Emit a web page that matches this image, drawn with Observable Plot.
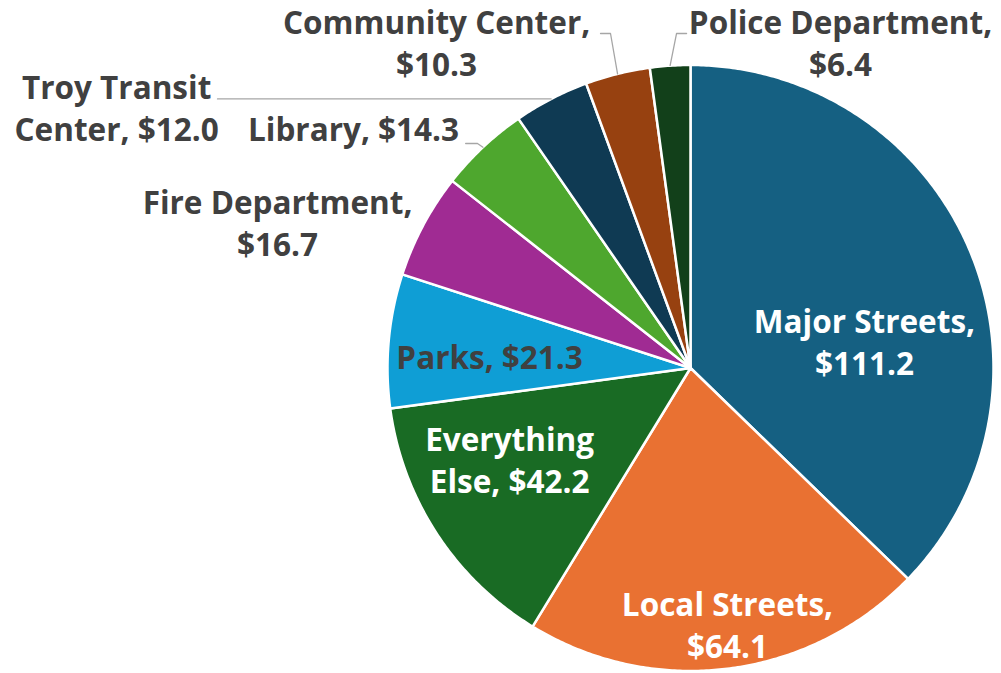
<!DOCTYPE html>
<html><head><meta charset="utf-8">
<script src="https://cdn.jsdelivr.net/npm/d3@7"></script>
<script src="https://cdn.jsdelivr.net/npm/@observablehq/plot@0.6"></script>
<style>body{margin:0;background:#fff}#chart svg{display:block;background:#fff}</style>
</head><body><div id="chart"></div>
<script>
// ---- data ----
const categories = ["Major Streets", "Local Streets", "Everything Else", "Parks", "Fire Department",
  "Library", "Troy Transit Center", "Community Center", "Police Department"];
const values = [111.2, 64.1, 42.2, 21.3, 16.7, 14.3, 12.0, 10.3, 6.4];
const colors = ["#156082", "#E97132", "#196B24", "#0F9ED5", "#A02B93", "#4EA72E", "#0F3A53", "#974110", "#12401A"];

// ---- layout (label placement in pie-radius units, relative to pie centre; y up) ----
const labelPos = [[0.574, 0.091], [0.122, -0.843], [-0.597, -0.299], [-0.663, 0.041], [-1.363, 0.484],
  [-1.112, 0.794], [-1.894, 0.863], [-0.838, 1.078], [0.495, 1.078]];
const labelWrap = [2, 2, 1, 0, 2, 0, 2, 2, 2]; // words on first line (0 = single line)
const labelWhite = [true, true, true, false, false, false, false, false, false];
// leader line label-side points (pie-radius units)
const leaderStart = {5: [[-0.742, 0.741], [-0.703, 0.741]], 6: [[-1.561, 0.888]], 7: [[-0.297, 1.104], [-0.264, 1.104]], 8: [[-0.013, 1.104], [-0.046, 1.104]]};

const W = 1001, H = 673, CX = 690, CY = 367.5, R = 303;
const FONT = "'Open Sans', sans-serif";
const FS = 31.5;

// ---- geometry from data ----
const total = d3.sum(values);
const slices = [];
const arcPts = [];
let cum = 0;
values.forEach((v, i) => {
  const a0 = cum / total * 2 * Math.PI;
  cum += v;
  const a1 = cum / total * 2 * Math.PI;
  slices.push({name: categories[i], a0, a1, mid: (a0 + a1) / 2});
  arcPts.push({name: categories[i], x: 0, y: 0});
  const n = Math.max(2, Math.ceil((a1 - a0) / (Math.PI / 360)));
  for (let k = 0; k <= n; k++) {
    const a = a0 + (a1 - a0) * k / n;
    arcPts.push({name: categories[i], x: Math.sin(a), y: Math.cos(a)});
  }
  arcPts.push({name: categories[i], x: 0, y: 0});
});

const labels = categories.map((c, i) => {
  const words = (c + ", $" + values[i].toFixed(1)).split(" ");
  const w = labelWrap[i];
  const text = w ? words.slice(0, w).join(" ") + "\n" + words.slice(w).join(" ") : words.join(" ");
  return {name: c, text, x: labelPos[i][0], y: labelPos[i][1], white: labelWhite[i]};
});

const leaders = [];
Object.entries(leaderStart).forEach(([k, pts]) => {
  const i = +k, s = slices[i];
  pts.forEach(p => leaders.push({name: categories[i], x: p[0], y: p[1]}));
  leaders.push({name: categories[i], x: Math.sin(s.mid), y: Math.cos(s.mid)});
});

const chart = Plot.plot({
  width: W, height: H, margin: 0,
  x: {domain: [-CX / R, (W - CX) / R], range: [0, W], axis: null},
  y: {domain: [-(H - CY) / R, CY / R], range: [H, 0], axis: null},
  color: {domain: categories, range: colors},
  style: {fontFamily: FONT, background: "#fff"},
  marks: [
    Plot.line(arcPts, {x: "x", y: "y", z: "name", fill: "name", stroke: "#fff", strokeWidth: 2.5, strokeLinejoin: "round", curve: "linear"}),
    Plot.line(leaders, {x: "x", y: "y", z: "name", stroke: "#A6A6A6", strokeWidth: 1.3, curve: "linear"}),
    Plot.text(labels.filter(d => d.white), {x: "x", y: "y", text: "text", fill: "#fff", fontSize: FS, fontWeight: 700, lineHeight: 1.333, fontFamily: FONT}),
    Plot.text(labels.filter(d => !d.white), {x: "x", y: "y", text: "text", fill: "#404040", fontSize: FS, fontWeight: 700, lineHeight: 1.333, fontFamily: FONT})
  ]
});
document.getElementById("chart").append(chart);
</script>
</body></html>
